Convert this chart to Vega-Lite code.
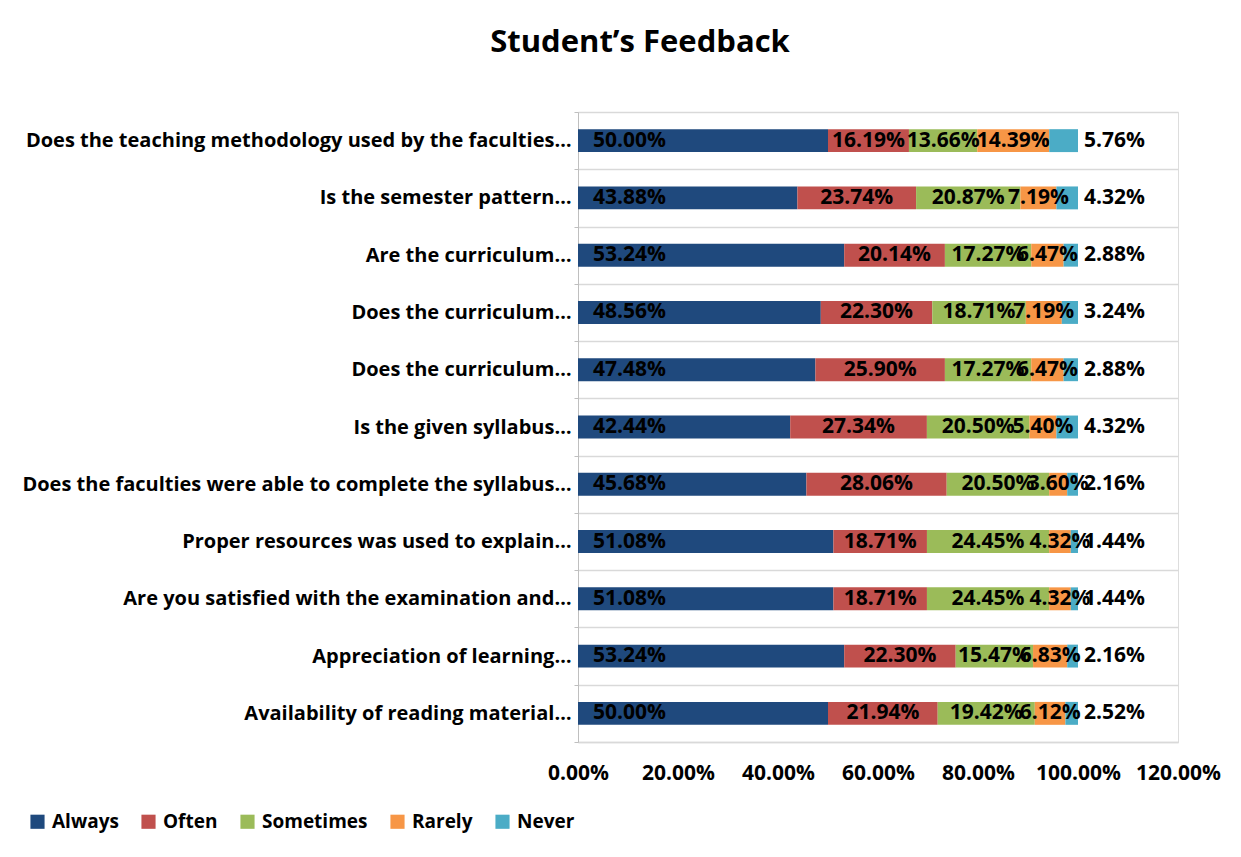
{
  "$schema": "https://vega.github.io/schema/vega-lite/v6.json",
  "autosize": "none",
  "width": 600,
  "height": 630,
  "padding": {"left": 578, "top": 112, "right": 63, "bottom": 115},
  "background": "white",
  "title": {
    "text": "Student’s Feedback",
    "font": "Open Sans",
    "fontSize": 31,
    "fontWeight": "bold",
    "color": "#000000",
    "anchor": "middle",
    "frame": "group",
    "dx": -238,
    "offset": 43
  },
  "data": {
    "values": [
      {"q": "01|Does the teaching methodology used by the faculties…", "response": "Always", "value": 50.00},
      {"q": "01|Does the teaching methodology used by the faculties…", "response": "Often", "value": 16.19},
      {"q": "01|Does the teaching methodology used by the faculties…", "response": "Sometimes", "value": 13.66},
      {"q": "01|Does the teaching methodology used by the faculties…", "response": "Rarely", "value": 14.39},
      {"q": "01|Does the teaching methodology used by the faculties…", "response": "Never", "value": 5.76},
      {"q": "02|Is the semester pattern…", "response": "Always", "value": 43.88},
      {"q": "02|Is the semester pattern…", "response": "Often", "value": 23.74},
      {"q": "02|Is the semester pattern…", "response": "Sometimes", "value": 20.87},
      {"q": "02|Is the semester pattern…", "response": "Rarely", "value": 7.19},
      {"q": "02|Is the semester pattern…", "response": "Never", "value": 4.32},
      {"q": "03|Are the curriculum…", "response": "Always", "value": 53.24},
      {"q": "03|Are the curriculum…", "response": "Often", "value": 20.14},
      {"q": "03|Are the curriculum…", "response": "Sometimes", "value": 17.27},
      {"q": "03|Are the curriculum…", "response": "Rarely", "value": 6.47},
      {"q": "03|Are the curriculum…", "response": "Never", "value": 2.88},
      {"q": "04|Does the curriculum…", "response": "Always", "value": 48.56},
      {"q": "04|Does the curriculum…", "response": "Often", "value": 22.30},
      {"q": "04|Does the curriculum…", "response": "Sometimes", "value": 18.71},
      {"q": "04|Does the curriculum…", "response": "Rarely", "value": 7.19},
      {"q": "04|Does the curriculum…", "response": "Never", "value": 3.24},
      {"q": "05|Does the curriculum…", "response": "Always", "value": 47.48},
      {"q": "05|Does the curriculum…", "response": "Often", "value": 25.90},
      {"q": "05|Does the curriculum…", "response": "Sometimes", "value": 17.27},
      {"q": "05|Does the curriculum…", "response": "Rarely", "value": 6.47},
      {"q": "05|Does the curriculum…", "response": "Never", "value": 2.88},
      {"q": "06|Is the given syllabus…", "response": "Always", "value": 42.44},
      {"q": "06|Is the given syllabus…", "response": "Often", "value": 27.34},
      {"q": "06|Is the given syllabus…", "response": "Sometimes", "value": 20.50},
      {"q": "06|Is the given syllabus…", "response": "Rarely", "value": 5.40},
      {"q": "06|Is the given syllabus…", "response": "Never", "value": 4.32},
      {"q": "07|Does the faculties were able to complete the syllabus…", "response": "Always", "value": 45.68},
      {"q": "07|Does the faculties were able to complete the syllabus…", "response": "Often", "value": 28.06},
      {"q": "07|Does the faculties were able to complete the syllabus…", "response": "Sometimes", "value": 20.50},
      {"q": "07|Does the faculties were able to complete the syllabus…", "response": "Rarely", "value": 3.60},
      {"q": "07|Does the faculties were able to complete the syllabus…", "response": "Never", "value": 2.16},
      {"q": "08|Proper resources was used to explain…", "response": "Always", "value": 51.08},
      {"q": "08|Proper resources was used to explain…", "response": "Often", "value": 18.71},
      {"q": "08|Proper resources was used to explain…", "response": "Sometimes", "value": 24.45},
      {"q": "08|Proper resources was used to explain…", "response": "Rarely", "value": 4.32},
      {"q": "08|Proper resources was used to explain…", "response": "Never", "value": 1.44},
      {"q": "09|Are you satisfied with the examination and…", "response": "Always", "value": 51.08},
      {"q": "09|Are you satisfied with the examination and…", "response": "Often", "value": 18.71},
      {"q": "09|Are you satisfied with the examination and…", "response": "Sometimes", "value": 24.45},
      {"q": "09|Are you satisfied with the examination and…", "response": "Rarely", "value": 4.32},
      {"q": "09|Are you satisfied with the examination and…", "response": "Never", "value": 1.44},
      {"q": "10|Appreciation of learning…", "response": "Always", "value": 53.24},
      {"q": "10|Appreciation of learning…", "response": "Often", "value": 22.30},
      {"q": "10|Appreciation of learning…", "response": "Sometimes", "value": 15.47},
      {"q": "10|Appreciation of learning…", "response": "Rarely", "value": 6.83},
      {"q": "10|Appreciation of learning…", "response": "Never", "value": 2.16},
      {"q": "11|Availability of reading material…", "response": "Always", "value": 50.00},
      {"q": "11|Availability of reading material…", "response": "Often", "value": 21.94},
      {"q": "11|Availability of reading material…", "response": "Sometimes", "value": 19.42},
      {"q": "11|Availability of reading material…", "response": "Rarely", "value": 6.12},
      {"q": "11|Availability of reading material…", "response": "Never", "value": 2.52}
    ]
  },
  "transform": [
    {"calculate": "indexof(['Always','Often','Sometimes','Rarely','Never'], datum.response)", "as": "ord"},
    {"stack": "value", "groupby": ["q"], "sort": [{"field": "ord", "order": "ascending"}], "as": ["x0", "x1"]},
    {"calculate": "(datum.x0 + datum.x1) / 2", "as": "xm"},
    {"calculate": "format(datum.value, '.2f') + '%'", "as": "label"}
  ],
  "encoding": {
    "y": {
      "field": "q",
      "type": "nominal",
      "sort": "ascending",
      "scale": {"paddingInner": 0, "paddingOuter": 0},
      "axis": {
        "title": null,
        "labelExpr": "split(datum.label, '|')[1]",
        "labelFont": "Open Sans",
        "labelFontSize": 20,
        "labelFontWeight": "bold",
        "labelColor": "#000000",
        "labelLimit": 600,
        "labelPadding": 3,
        "tickBand": "extent",
        "tickSize": 4,
        "tickColor": "#bfbfbf",
        "domainColor": "#bfbfbf",
        "grid": true,
        "gridColor": "#d9d9d9",
        "gridWidth": 1.5
      }
    }
  },
  "layer": [
    {
      "mark": {"type": "bar", "height": {"band": 0.4}},
      "encoding": {
        "x": {
          "field": "x0",
          "type": "quantitative",
          "scale": {"domain": [0, 120], "nice": false},
          "axis": {
            "title": null,
            "values": [0, 20, 40, 60, 80, 100, 120],
            "labelExpr": "format(datum.value, '.2f') + '%'",
            "labelFont": "Open Sans",
            "labelFontSize": 21,
            "labelFontWeight": "bold",
            "labelColor": "#000000",
            "labelPadding": 20,
            "ticks": false,
            "grid": false,
            "domain": true,
            "domainColor": "#d9d9d9",
            "domainWidth": 1.5,
            "labelFlush": false
          }
        },
        "x2": {"field": "x1"},
        "color": {
          "field": "response",
          "type": "nominal",
          "scale": {
            "domain": ["Always", "Often", "Sometimes", "Rarely", "Never"],
            "range": ["#1F497D", "#C0504D", "#9BBB59", "#F79646", "#4BACC6"]
          },
          "legend": {
            "title": null,
            "orient": "none",
            "legendX": -550,
            "legendY": 700,
            "direction": "horizontal",
            "symbolType": "square",
            "symbolSize": 200,
            "symbolStrokeWidth": 0,
            "labelFont": "Open Sans",
            "labelFontSize": 19,
            "labelFontWeight": "bold",
            "labelColor": "#000000",
            "columnPadding": 20,
            "labelOffset": 5
          }
        }
      }
    },
    {
      "transform": [{"filter": "datum.response === 'Always'"}],
      "mark": {"type": "text", "align": "left", "baseline": "middle", "dx": 15, "font": "Open Sans", "fontSize": 21, "fontWeight": "bold", "color": "#000000"},
      "encoding": {
        "x": {"field": "x0", "type": "quantitative"},
        "text": {"field": "label"}
      }
    },
    {
      "transform": [{"filter": "datum.response !== 'Always' && datum.response !== 'Never'"}],
      "mark": {"type": "text", "align": "center", "baseline": "middle", "font": "Open Sans", "fontSize": 21, "fontWeight": "bold", "color": "#000000"},
      "encoding": {
        "x": {"field": "xm", "type": "quantitative"},
        "text": {"field": "label"}
      }
    },
    {
      "transform": [{"filter": "datum.response === 'Never'"}],
      "mark": {"type": "text", "align": "left", "baseline": "middle", "dx": 6, "font": "Open Sans", "fontSize": 21, "fontWeight": "bold", "color": "#000000"},
      "encoding": {
        "x": {"field": "x1", "type": "quantitative"},
        "text": {"field": "label"}
      }
    }
  ]
}
